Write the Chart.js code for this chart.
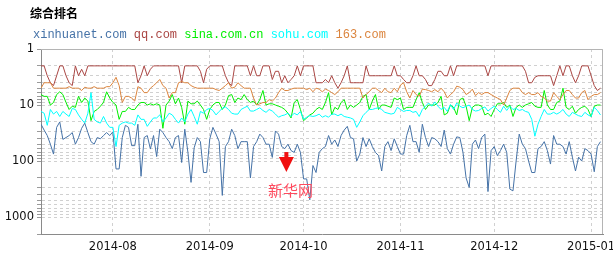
<!DOCTYPE html>
<html><head><meta charset="utf-8">
<script src="https://cdn.jsdelivr.net/npm/chart.js@4.4.1/dist/chart.umd.min.js"></script>
<style>
html,body{margin:0;padding:0;background:#fff;}
#wrap{position:relative;width:613px;height:256px;overflow:hidden;}
canvas{position:absolute;left:0;top:0;}
#title{position:absolute;left:30px;top:7px;font:bold 12px/12px "Noto Sans CJK SC",sans-serif;color:#000;white-space:nowrap;}
#legend{position:absolute;left:33px;top:29px;font:12px/12px "Liberation Mono",monospace;white-space:pre;}
</style></head><body>
<div id="wrap">
<canvas id="c" width="613" height="256"></canvas>
<div id="title">综合排名</div>
<div id="legend"></div>
</div>
<script>
// ---- data (daily ranks, first day 2014-07-09) ----
const startDate = '2014-07-09';
const seriesNames = ['xinhuanet.com', 'qq.com', 'sina.com.cn', 'sohu.com', '163.com'];
const monthTicks = ['2014-08', '2014-09', '2014-10', '2014-11', '2014-12', '2015-01'];
const yTickLabels = [1, 10, 100, 1000];

const xinhuanet = [
  22,28,35,50,75,25,20,41,38,35,
  31,50,38,26,21,31,45,50,38,40,
  35,31,35,30,138,138,38,23,25,53,
  53,22,187,38,35,61,35,83,27,31,
  38,45,60,38,35,106,27,70,240,58,
  38,45,160,160,40,25,33,45,410,55,
  45,27,35,60,45,45,45,200,55,45,
  33,38,50,50,86,29,33,55,60,50,
  65,70,50,70,208,208,490,120,160,70,
  60,55,35,50,42,55,35,28,24,38,
  40,100,75,38,55,40,55,70,80,150,
  55,45,65,40,55,75,75,35,23,45,
  45,70,22,38,55,38,40,45,55,28,
  60,75,50,37,38,70,200,295,50,42,
  60,38,33,350,65,55,80,65,50,70,
  316,340,100,33,50,60,100,160,160,60,
  55,45,65,113,35,50,50,55,75,45,
  85,150,85,100,60,65,75,155,55,45
];
const qq = [
  2,2,3,4,4.5,3,2,2,3,4,
  4.5,2,3,2.3,3,2,2,2,2,2,
  2,2,2,2,2,2,2,2,2,2,
  2,4,3,2,3,2.3,2,2,2,2,
  2,2,2,2,2,4,2,2,2,2,
  2,2.5,4,2.3,2,2,2,2,2,3,
  4,4.5,2,2,2,2,2,3,2,3,
  3,2,2,2,3.5,2.5,2.5,4,3,4,
  3.5,3,2,3,2,2,2,2,4,4,
  4,3.5,4,3,4,5,4,3,2,4,
  4,4,4,4,2,3,3,3,3,3,
  3,3,3,2,3,3,3.5,4,4,3,
  2,3,3,3.5,4.5,4.5,3.5,2.5,2.5,3,
  3,2,3,2,2,2,2,2,2,2,
  2,2,2,3,2,2,2,2,2,2,
  2,2,2,2,2,2.5,4,4,3.2,3,
  3,3,3,3,4.5,3,2,3,2,2,
  3,4,3,2,2,2,3,4.5,5.5,5
];
const sina = [
  6.5,7,7,10,9,6.5,5.8,6.5,9,12,
  10.5,11,7,9,7.5,8.5,19,13,12,10.5,
  9,5.8,7.5,9,10,18,13,13,11,12,
  12,10,9,9,10,9.5,10,9.5,10,26,
  10,8.5,6.5,9.5,7.5,11,22,8.5,9.5,9.5,
  8.5,10,12,18,12,10,9,9,12,10,
  6.8,6.5,9,7.5,8,6.5,8,9,8.5,10,
  8,5.5,10,9.5,9.5,10,10.5,11,12,14,
  17,9,8,12,19,17,15,14,12,11,
  12,9,6,15,11,12,9,8,12,10,
  11,10,9,7,6.5,12,8.5,6.5,12,10,
  10,10.5,11,7.5,8,7.5,12,11,11,11,
  8,6,9,12,10,10,10,9,7,15,
  14,10,11,15,8,7.5,10.5,19,11,10,
  10,10.5,15,14,16,12,9.5,9.5,9,11,
  10,16,11,10,11,10,9.5,9,10.5,11,
  11,5.5,10,12,12,9,8.5,5,11,12,
  10.5,14,12,11,10.5,12,16,10.5,10,10
];
const sohu = [
  13,14,23,12,14.5,13,16,13,14.5,16,
  11.5,12,15,18,21,14,6,18,20,21,
  16,21,25,25,55,23,21,20,21,21,
  23,15,18,18,24,20,17,17,15,20,
  17,14,15,18,21,17,20,14.5,12,16,
  22,13,14,12,11.5,12.5,15,13,11.5,10.8,
  12,14,14.5,14.5,12,11.2,10.5,12.8,12.8,12,
  11.2,12.5,13.5,12,12.8,14.5,16.5,15.5,15,14,
  16,14,15,13,18,16.5,15.5,16,15.5,14.5,
  16.5,15.5,16.5,14.5,14.5,15.5,14.5,16,16.5,17,
  18,25,20,15.5,13.5,12,12,11.5,11.2,12,
  13.5,14,14.5,14,11,12,13,12.5,12.5,13.5,
  13,16,12,10.5,9.2,10.5,8.8,10.5,12,11,
  13,9.8,12,9.2,10.5,11.2,10.5,10,12,12.8,
  12.5,11.5,10.8,12.8,11.5,10.5,12,13.5,10.5,12.5,
  10.5,12,11.5,12.5,12,13,13.5,18,36,22,
  16,12,14.5,14.5,13.5,14.5,13.5,12,14.5,16,
  13.5,14.5,15.5,16,13.5,15,16,11,12.5,15
];
const net163 = [
  5,4,4,4,5,5,5,5,5,4.7,
  5,5,5,5.5,4.8,5,5,4.7,5,5,
  5,4.7,4.7,4,3.2,4.5,9,7,7,7.5,
  8.5,4.7,5,6,6,5,4.5,4,3.5,4.5,
  5,7.5,6,6,4,3.8,4,4,4.5,4.8,
  5,5,5,5,5,5,5.3,5.5,5,4.5,
  4,5,4.8,4,4.5,5,5,5,7.5,10,
  9.5,9,9,8,8.5,7.5,6,5,5.5,5.5,
  5.2,5,5,5,5,5.3,5,5.8,5,5.2,
  5.8,5.2,5.5,6,6.5,5.8,5,5,5,5,
  5,5,5,7.5,6.5,5.8,5,5,5.5,6,
  5,5.8,6,5,5.8,4.4,4,5.8,7.5,5.5,
  6.5,7,5.2,5.3,5.5,5.8,5.3,5.8,5,5.8,
  7.5,6.5,5.8,4.6,4.8,5.3,6.5,6,5.2,6.8,
  6,6.5,6,6,6.5,7,7.5,8,10,7.5,
  5.5,5,5,5,6,6.5,6,6.5,6.5,6,
  7,7.5,8.5,8.5,6,7,8,6.5,5.5,5.5,
  6.5,7.5,7.5,6,5.5,8,7,6.5,6.5,6
];

// ---- annotation ----
const noteText = '新华网';

// ---- styles ----
const colors = ['#4572A7', '#AA4643', '#00EE00', '#00FFFF', '#DB843D'];
const allSeries = [xinhuanet, qq, sina, sohu, net163];

function dayIndex(dateStr) {
  const a = Date.UTC(+startDate.slice(0,4), +startDate.slice(5,7)-1, +startDate.slice(8,10));
  const p = dateStr.split('-');
  const b = Date.UTC(+p[0], +p[1]-1, p[2] ? +p[2] : 1);
  return Math.round((b - a) / 86400000);
}

// legend (html text)
const leg = document.getElementById('legend');
seriesNames.forEach((n, i) => {
  const s = document.createElement('span');
  s.style.color = colors[i];
  s.textContent = n;
  leg.appendChild(s);
  if (i < seriesNames.length - 1) leg.appendChild(document.createTextNode(' '));
});

const datasets = allSeries.map((arr, i) => ({
  label: seriesNames[i],
  data: arr.map((v, k) => ({x: k, y: v})),
  borderColor: colors[i],
  backgroundColor: colors[i],
  borderWidth: 1,
  pointRadius: 0,
  tension: 0,
  fill: false,
  order: allSeries.length - i
}));

const framePlugin = {
  id: 'framePlugin',
  afterDraw(chart) {
    const {ctx, chartArea: a, scales} = chart;
    const xs = scales.x, ys = scales.y;
    ctx.save();
    ctx.strokeStyle = '#b4b4b4';
    ctx.lineWidth = 1;
    ctx.beginPath();
    ctx.moveTo(a.left, Math.round(a.top) + 0.5);
    ctx.lineTo(Math.round(a.right) - 0.5, Math.round(a.top) + 0.5);
    ctx.lineTo(Math.round(a.right) - 0.5, a.bottom);
    ctx.stroke();

    // arrow annotation
    const ax = xs.getPixelForValue(78.5);
    const yTop = ys.getPixelForValue(69);
    const yTip = ys.getPixelForValue(157);
    ctx.fillStyle = '#f01010';
    ctx.fillRect(ax - 2, yTop, 4, (yTip - yTop) - 10);
    ctx.beginPath();
    ctx.moveTo(ax - 7.5, yTip - 15);
    ctx.lineTo(ax + 7.5, yTip - 15);
    ctx.lineTo(ax, yTip);
    ctx.closePath();
    ctx.fill();

    ctx.font = '15px "Noto Sans CJK SC", sans-serif';
    ctx.fillStyle = '#ff4a5e';
    ctx.textAlign = 'center';
    ctx.textBaseline = 'middle';
    ctx.fillText(noteText, xs.getPixelForValue(79.8), ys.getPixelForValue(328));
    ctx.restore();
  }
};

new Chart(document.getElementById('c'), {
  type: 'line',
  data: {datasets},
  options: {
    responsive: false,
    animation: false,
    events: [],
    layout: {padding: {top: 49, right: 10, left: 0, bottom: 0}},
    plugins: {legend: {display: false}, title: {display: false}, tooltip: {enabled: false}},
    scales: {
      x: {
        type: 'linear',
        min: 0,
        max: 179.8,
        afterBuildTicks: (scale) => {
          scale.ticks = monthTicks.map(m => ({value: dayIndex(m)}));
        },
        afterFit: (scale) => { scale.height = 22; scale.paddingLeft = 0; scale.paddingRight = 0; },
        ticks: {
          autoSkip: false,
          maxRotation: 0,
          padding: 2,
          color: '#111',
          font: {family: '"DejaVu Sans"', size: 11.5},
          callback: (v) => {
            const i = monthTicks.findIndex(m => dayIndex(m) === v);
            return i >= 0 ? monthTicks[i] : '';
          }
        },
        grid: {color: '#d0d0d0', lineWidth: 1, drawTicks: true, tickLength: 4, tickColor: 'rgba(0,0,0,0)'},
        border: {display: true, color: '#8a8a8a', width: 1, dash: [3, 3]}
      },
      y: {
        type: 'logarithmic',
        reverse: true,
        min: 1,
        max: 2000,
        afterBuildTicks: (scale) => {
          const t = [];
          for (let p = 1; p <= 1000; p *= 10) {
            for (let m = 1; m <= 9; m++) {
              const v = m * p;
              if (v <= 2000) t.push({value: v});
            }
          }
          scale.ticks = t;
        },
        afterFit: (scale) => { scale.width = 41; },
        ticks: {
          autoSkip: false,
          padding: 3,
          color: '#111',
          font: {family: '"DejaVu Sans"', size: 11.5},
          callback: (v) => (yTickLabels.includes(v) ? String(v) : '')
        },
        grid: {color: '#d0d0d0', lineWidth: 1, drawTicks: true, tickLength: 4, tickColor: '#9a9a9a', tickBorderDash: []},
        border: {display: true, color: '#8a8a8a', width: 1, dash: [3, 3]}
      }
    }
  },
  plugins: [framePlugin]
});
</script>
</body></html>
